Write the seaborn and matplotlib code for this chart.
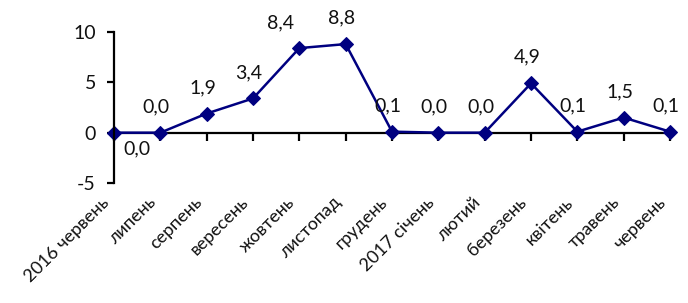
import matplotlib
matplotlib.use("Agg")
import matplotlib.pyplot as plt
import matplotlib.transforms as mtransforms
import seaborn as sns

# data
months = ['2016 червень', 'липень', 'серпень', 'вересень', 'жовтень', 'листопад',
          'грудень', '2017 січень', 'лютий', 'березень', 'квітень', 'травень', 'червень']
values = [0.0, 0.0, 1.9, 3.4, 8.4, 8.8, 0.1, 0.0, 0.0, 4.9, 0.1, 1.5, 0.1]
y_ticks = [-5, 0, 5, 10]

sns.set_style('white')
plt.rcParams['font.family'] = ['Lato', 'DejaVu Sans']
plt.rcParams['axes.unicode_minus'] = False

fig = plt.figure(figsize=(6.88, 3.03), dpi=100)
ax = fig.add_axes([114 / 688, 1 - 183 / 303, (670 - 114) / 688, (183 - 32) / 303])

pos = list(range(len(months)))
navy = '#000080'
sns.lineplot(x=pos, y=values, ax=ax, color=navy, linewidth=1.8,
             marker='D', markersize=7, markeredgecolor=navy)
for ln in ax.lines:
    ln.set_clip_on(False)

ax.set_xlim(0, len(months) - 1)
ax.set_ylim(-5, 10)
ax.set_yticks(y_ticks)

# point labels, mostly above the point
for i, v in enumerate(values):
    txt = f'{v:.1f}'.replace('.', ',')
    if i == 0:
        off = (23, -16)
    elif i == 4:
        off = (-19, 25)
    else:
        off = (-4, 26)
    ax.annotate(txt, (i, v), xytext=off, textcoords='offset pixels',
                ha='center', va='center', fontsize=14, color='#111111')

# spines
for s in ['top', 'right', 'bottom']:
    ax.spines[s].set_visible(False)
ax.spines['left'].set_color('black')
ax.spines['left'].set_linewidth(1.6)
ax.tick_params(axis='y', direction='out', length=5, width=1.6, color='black',
               labelsize=14, labelcolor='#111111', pad=8, left=True)

# category labels at the bottom
ax.set_xticks(pos)
ax.set_xticklabels(months, rotation=45, ha='right', va='center',
                   rotation_mode='anchor', fontsize=13, color='#111111')
ax.tick_params(axis='x', length=0, pad=12)
shift = mtransforms.ScaledTranslation(-7 / 100, 0, fig.dpi_scale_trans)
for lab in ax.get_xticklabels():
    lab.set_transform(lab.get_transform() + shift)

# zero line with ticks
ymin, ymax = ax.get_ylim()
sec = ax.secondary_xaxis((0 - ymin) / (ymax - ymin))
sec.set_xticks(pos)
sec.set_xticklabels([])
sec.tick_params(direction='out', length=6, width=1.6, color='black')
for sp in sec.spines.values():
    sp.set_linewidth(1.6)
    sp.set_color('black')

fig.savefig('out.png', dpi=100, facecolor='white')
